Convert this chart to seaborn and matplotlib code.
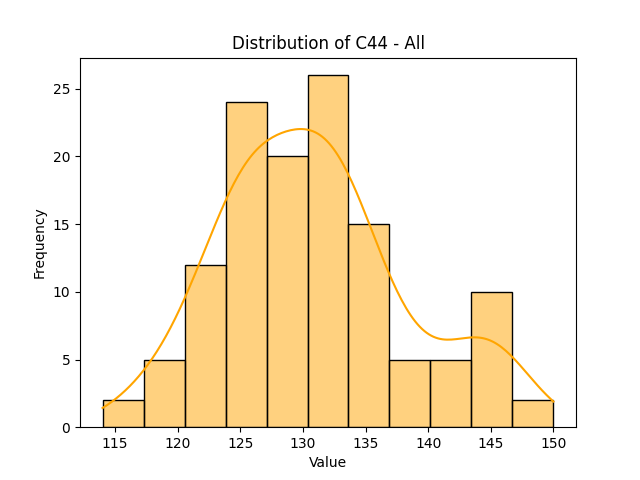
import numpy as np
import pandas as pd
import matplotlib
matplotlib.use('agg')
import matplotlib.pyplot as plt
import seaborn as sns

# counts (11 bins between 114 and 150)
bin_lo = 114
bin_hi = 150
n_bins = 11
counts = [2, 5, 12, 24, 20, 26, 15, 5, 5, 10, 2]

edges = np.linspace(bin_lo, bin_hi, n_bins + 1)
centers = (edges[:-1] + edges[1:]) / 2
df = pd.DataFrame({'Value': centers, 'Frequency': counts})

fig, ax = plt.subplots(figsize=(6.4, 4.8), dpi=100)
sns.histplot(data=df, x='Value', weights='Frequency', bins=n_bins,
             binrange=(bin_lo, bin_hi), kde=True, color='orange',
             edgecolor='black',
             kde_kws={'cut': 3, 'clip': (bin_lo, bin_hi), 'bw_adjust': 0.55},
             ax=ax)
ax.set_title('Distribution of C44 - All')
ax.set_xlabel('Value')
ax.set_ylabel('Frequency')
fig.savefig('out.png')
